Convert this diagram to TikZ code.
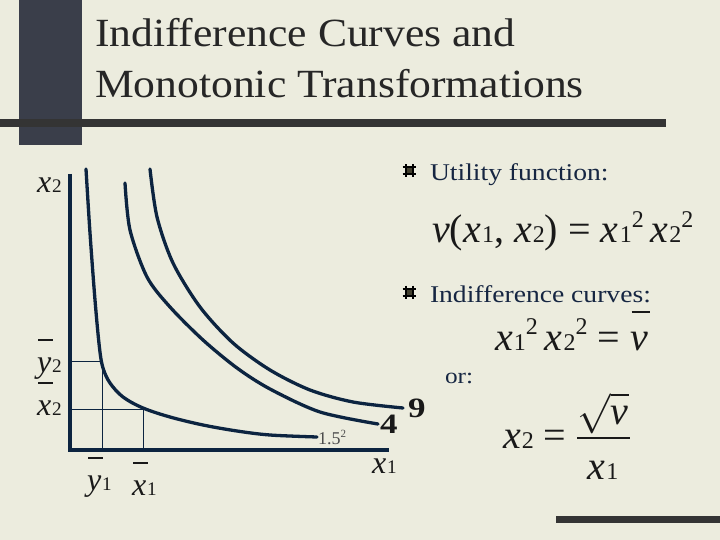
\RequirePackage{fix-cm}
\documentclass[tikz,border=0pt]{standalone}
\usepackage{fontspec}
\setmainfont{Liberation Serif}
\usetikzlibrary{positioning,calc}
\definecolor{paper}{RGB}{236,236,222}
\definecolor{slate}{RGB}{58,62,74}
\definecolor{barc}{RGB}{52,52,52}
\definecolor{navy}{RGB}{12,36,64}
\definecolor{txt}{RGB}{22,38,66}
\tikzset{every node/.style={inner sep=0pt,outer sep=0pt},curve/.style={navy,line width=3.3pt,line cap=round},axis/.style={navy,line width=3.4pt},guide/.style={navy,line width=1pt},
ttl/.style={font=\fontsize{40}{40}\selectfont,anchor=base west,text=black!85,xscale=1.09},bul/.style={font=\fontsize{24}{24}\selectfont,anchor=base west,text=txt,xscale=1.15},
eq/.style={font=\fontsize{40}{40}\selectfont,anchor=base west,text=black!90},lab/.style={font=\fontsize{32}{32}\selectfont,anchor=base west,text=black!90},
num/.style={font=\fontsize{28}{28}\selectfont\bfseries,text=black!90,xscale=1.25}}
\makeatletter
\newcommand{\ix}[1]{{\fontsize{\fpeval{0.6*\f@size}}{\fpeval{0.6*\f@size}}\selectfont #1}}
\makeatother
\newcommand{\sv}[2]{\textit{#1}\kern.03em\ix{#2}}% variable with index
\newcommand{\sq}[1]{\raisebox{.85ex}{\ix{#1}}}
\newcommand{\bv}[2][.98em]{\makebox[0pt][l]{\kern.04em\raisebox{#1}{\rule{.45em}{1.8pt}}}#2}
\newcommand{\bulmark}[1]{\fill[black!70!olive] ($(#1)+(-4,-4)$) rectangle ($(#1)+(4,4)$);
\draw[black,line width=2pt] ($(#1)+(-3.5,-6.5)$)--($(#1)+(-3.5,6.5)$) ($(#1)+(3.5,-6.5)$)--($(#1)+(3.5,6.5)$) ($(#1)+(-6.5,-3.5)$)--($(#1)+(6.5,-3.5)$) ($(#1)+(-6.5,3.5)$)--($(#1)+(6.5,3.5)$);}
\begin{document}
\begin{tikzpicture}[x=1pt,y=-1pt]
\useasboundingbox (0,0) rectangle (720,540);
\fill[paper] (0,0) rectangle (720,540);
% frame bars
\fill[slate] (19,0) rectangle (82,145);
\fill[barc] (0,119) rectangle (666,127);
\fill[barc] (556,516) rectangle (720,523);
\node[ttl] (t1) at (95,47) {Indifference Curves and};
\node[ttl] (t2) at (95,98) {Monotonic Transformations};

% axes
\coordinate (O) at (70,450);\coordinate (ytop) at (70,174);\coordinate (xend) at (389,450);
\draw[axis] (ytop)--(O)--(xend);
\coordinate (ky) at (102,361);\coordinate (kx) at (143,409);
\draw[guide] (O|-ky)--(ky)--(ky|-O);
\draw[guide] (O|-kx)--(kx)--(kx|-O);

% indifference curves
\draw[curve] plot[smooth,tension=.55] coordinates {(86,169) (90,233) (95,300) (99.5,348) (103,368) (110,383) (123,397) (143,408) (170,417) (203,425) (237,431) (270,435) (317,437)};
\coordinate (e1) at (317,437);
\draw[curve] plot[smooth] coordinates {(125,183) (130,230) (147,277) (170,307) (203,340) (237,368) (270,389) (320,412) (378,424)};
\coordinate (e4) at (378,424);
\draw[curve] plot[smooth] coordinates {(150,169) (157,217) (173,263) (200,307) (233,343) (270,370) (310,390) (353,402) (403,408)};
\coordinate (e9) at (403,408);
\node[anchor=base west,font=\fontsize{18}{18}\selectfont,text=black!70] (n1) at ($(e1)+(1,7)$) {1.5\raisebox{.75ex}{\fontsize{11}{11}\selectfont 2}};
\node[num,right=2pt of e4] (n4) {4};
\node[num,right=5pt of e9] (n9) {9};

% axis labels
\node[lab] (lx2) at (37,193) {\sv{x}{2}};
\node[lab] (ly2) at (37,372) {\bv{\sv{y}{2}}};
\node[lab] (lxb2) at (37,415) {\bv{\sv{x}{2}}};
\node[lab] (ly1) at (87,490) {\bv{\sv{y}{1}}};
\node[lab] (lxb1) at (132,495) {\bv{\sv{x}{1}}};
\node[lab] (lx1) at (372,473) {\sv{x}{1}};

% bullets and formulas
\bulmark{409,171}
\node[bul] (util) at (430,181) {Utility function:};
\node[eq] (vfun) at (432,243) {\textit{v}(\sv{x}{1}, \sv{x}{2}) = \sv{x}{1}\sq{2}\,\sv{x}{2}\sq{2}};
\bulmark{409,292}
\node[bul] (indc) at (430,302) {Indifference curves:};
\node[eq] (icur) at (495,350) {\sv{x}{1}\sq{2}\,\sv{x}{2}\sq{2} = \bv[.93em]{\textit{v}}};
\node[bul,font=\fontsize{22}{22}\selectfont] (or) at (445,383) {or:};
\node[eq] (lhs) at (503,448) {\sv{x}{2} =};
\coordinate (fl) at (577,438);\coordinate (fr) at (630,438);
\draw[black!90,line width=1.6pt] (fl)--(fr);
\node[eq,anchor=base] (rad) at (603,424) {$\sqrt{\hbox{\textit{v}}}$};
\node[eq,anchor=base] (den) at (603,479) {\sv{x}{1}};
\end{tikzpicture}
\end{document}
